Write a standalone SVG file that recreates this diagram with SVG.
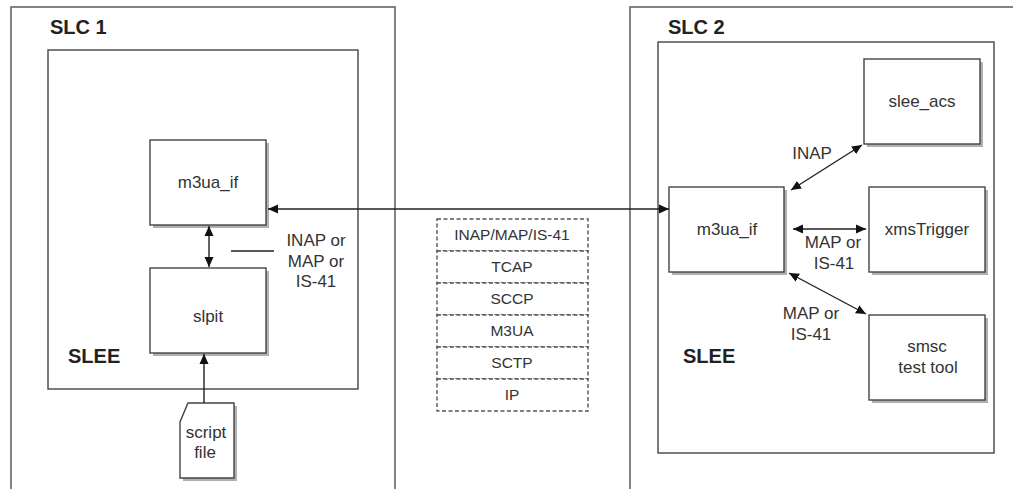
<svg xmlns="http://www.w3.org/2000/svg" width="1013" height="489" viewBox="0 0 1013 489">
<style>
.outer{fill:none;stroke:#666;stroke-width:1.6}
.inner{fill:none;stroke:#444;stroke-width:1.4}
.box{fill:#fff;stroke:#444;stroke-width:1.4}
.shadow{fill:#b0b0b0}
.lbl{font-family:"Liberation Sans",Arial,sans-serif;font-size:17px;fill:#333;text-anchor:middle}
.stk{font-family:"Liberation Sans",Arial,sans-serif;font-size:15.5px;fill:#333;text-anchor:middle}
.title{font-family:"Liberation Sans",Arial,sans-serif;font-size:20px;font-weight:bold;fill:#222}
.layer{fill:#fff;stroke:#555;stroke-width:1.4;stroke-dasharray:4 2.5}
.conn{stroke:#222;stroke-width:1.4;fill:none}
</style>
<defs>
<marker id="ah" viewBox="0 0 10 10" refX="10" refY="5" markerWidth="10" markerHeight="10" markerUnits="userSpaceOnUse" orient="auto-start-reverse">
<path d="M0,0.5 L10,5 L0,9.5 Z" fill="#111"/>
</marker>
</defs>
<rect width="1013" height="489" fill="#fff"/>

<g id="slc1">
<rect class="outer" x="11" y="7" width="384" height="500"/>
<text class="title" x="50" y="34">SLC 1</text>
</g>
<g id="slee1">
<rect class="inner" x="48" y="50" width="310" height="339"/>
<text class="title" x="68" y="363">SLEE</text>
</g>
<g id="m3ua1">
<rect class="shadow" x="153" y="143" width="116" height="85"/>
<rect class="box" x="150" y="140" width="116" height="85"/>
<text class="lbl" x="208" y="188">m3ua_if</text>
</g>
<g id="slpit">
<rect class="shadow" x="153" y="271" width="116" height="85"/>
<rect class="box" x="150" y="268" width="116" height="85"/>
<text class="lbl" x="208" y="322">slpit</text>
</g>
<g id="scriptfile">
<path class="shadow" d="M191,406 L237,406 L237,481 L183,481 L183,425 Z"/>
<path class="box" d="M188,403 L234,403 L234,478 L180,478 L180,422 Z"/>
<text class="lbl" x="206" y="438">script</text>
<text class="lbl" x="205" y="458">file</text>
</g>

<g id="slc2">
<rect class="outer" x="630" y="7" width="400" height="500"/>
<text class="title" x="668" y="34">SLC 2</text>
</g>
<g id="slee2">
<rect class="inner" x="658" y="42" width="336" height="411"/>
<text class="title" x="683" y="363">SLEE</text>
</g>
<g id="m3ua2">
<rect class="shadow" x="672" y="190" width="115" height="85"/>
<rect class="box" x="669" y="187" width="115" height="85"/>
<text class="lbl" x="727" y="235">m3ua_if</text>
</g>
<g id="sleeacs">
<rect class="shadow" x="867" y="62" width="116" height="85"/>
<rect class="box" x="864" y="59" width="116" height="85"/>
<text class="lbl" x="922" y="107">slee_acs</text>
</g>
<g id="xmstrigger">
<rect class="shadow" x="872" y="190" width="116" height="85"/>
<rect class="box" x="869" y="187" width="116" height="85"/>
<text class="lbl" x="927" y="235">xmsTrigger</text>
</g>
<g id="smsc">
<rect class="shadow" x="872" y="318" width="116" height="85"/>
<rect class="box" x="869" y="315" width="116" height="85"/>
<text class="lbl" x="927" y="352">smsc</text>
<text class="lbl" x="928" y="373">test tool</text>
</g>

<g id="stack">
<rect class="layer" x="437" y="219" width="151" height="32"/>
<text class="stk" x="512" y="240">INAP/MAP/IS-41</text>
<rect class="layer" x="437" y="251" width="151" height="32"/>
<text class="stk" x="512" y="272">TCAP</text>
<rect class="layer" x="437" y="283" width="151" height="32"/>
<text class="stk" x="512" y="304">SCCP</text>
<rect class="layer" x="437" y="315" width="151" height="32"/>
<text class="stk" x="512" y="336">M3UA</text>
<rect class="layer" x="437" y="347" width="151" height="32"/>
<text class="stk" x="512" y="368">SCTP</text>
<rect class="layer" x="437" y="379" width="151" height="32"/>
<text class="stk" x="512" y="400">IP</text>
</g>

<g id="connectors">
<line class="conn" x1="268" y1="209" x2="669" y2="209" marker-start="url(#ah)" marker-end="url(#ah)"/>
<line class="conn" x1="209" y1="226" x2="209" y2="267" marker-start="url(#ah)" marker-end="url(#ah)"/>
<line class="conn" x1="204" y1="403" x2="204" y2="354" marker-end="url(#ah)"/>
<line class="conn" x1="231" y1="251" x2="274" y2="251"/>
<line class="conn" x1="791" y1="190" x2="862" y2="145" marker-start="url(#ah)" marker-end="url(#ah)"/>
<line class="conn" x1="793" y1="229" x2="866" y2="229" marker-start="url(#ah)" marker-end="url(#ah)"/>
<line class="conn" x1="789" y1="273" x2="866" y2="314" marker-start="url(#ah)" marker-end="url(#ah)"/>
<text class="lbl" x="316" y="246">INAP or</text>
<text class="lbl" x="316" y="267">MAP or</text>
<text class="lbl" x="316" y="287">IS-41</text>
<text class="lbl" x="812" y="159">INAP</text>
<text class="lbl" x="833" y="248">MAP or</text>
<text class="lbl" x="834" y="269">IS-41</text>
<text class="lbl" x="811" y="319">MAP or</text>
<text class="lbl" x="811" y="340">IS-41</text>
</g>
</svg>
